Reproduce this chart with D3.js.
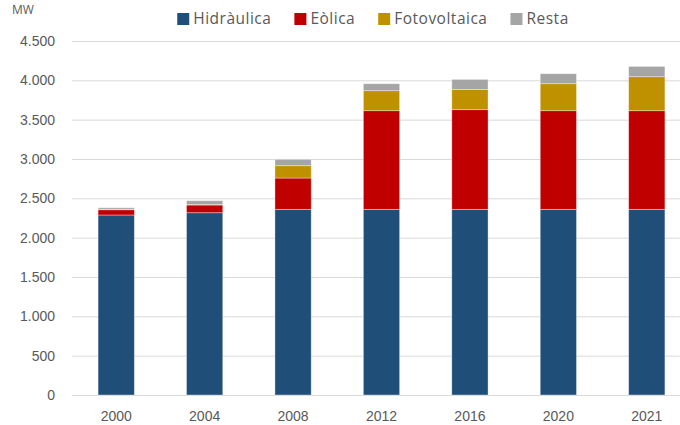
<!DOCTYPE html>
<html>
<head>
<meta charset="utf-8">
<script src="https://cdn.jsdelivr.net/npm/d3@7"></script>
<style>
body { margin: 0; background: #fff; }
svg { display: block; font-family: "Open Sans", "Liberation Sans", sans-serif; }
</style>
</head>
<body>
<svg></svg>
<script>
var screen = {width: 680, height: 425};
var margins = {top: 41, right: -11, bottom: 30, left: 72};

// MW installed per technology
var years = ["2000", "2004", "2008", "2012", "2016", "2020", "2021"];
var series = ["Hidràulica", "Eòlica", "Fotovoltaica", "Resta"];
var hidraulica = [2288, 2317, 2360, 2360, 2360, 2360, 2360];
var eolica = [67, 98, 398, 1254, 1267, 1254, 1254];
var fotovoltaica = [5, 5, 157, 254, 258, 343, 432];
var resta = [20, 50, 81, 89, 127, 127, 131];
var yTicks = [0, 500, 1000, 1500, 2000, 2500, 3000, 3500, 4000, 4500];
var colors = ["#1F4E79", "#C00000", "#BF9000", "#A5A5A5"];

var setup = function()
{
    var svg = d3.select("svg")
        .attr("width", screen.width)
        .attr("height", screen.height)

    var width = screen.width - margins.left - margins.right;
    var height = screen.height - margins.top - margins.bottom;

    var rows = years.map(function(y, i) {
        return {year: y, "Hidràulica": hidraulica[i], "Eòlica": eolica[i],
                "Fotovoltaica": fotovoltaica[i], "Resta": resta[i]};
    });

    var xScale = d3.scaleBand()
        .domain(years)
        .range([0, width])
        .paddingInner(0.59)
        .paddingOuter(0.295);

    var yScale = d3.scaleLinear()
        .domain([0, 4500])
        .range([height, 0]);

    var cScale = d3.scaleOrdinal()
        .domain(series)
        .range(colors);

    var fmt = d3.formatLocale({decimal: ",", thousands: ".", grouping: [3], currency: ["", "€"]}).format(",d");

    var graph = svg.append("g")
        .attr("id", "graph")
        .attr("transform", "translate(" + margins.left + "," + margins.top + ")");

    // gridlines
    graph.append("g")
        .attr("class", "grid")
        .call(d3.axisLeft(yScale).tickValues(yTicks).tickSize(-(screen.width - margins.left)).tickFormat(""))
        .call(function(g) { g.select(".domain").remove(); })
        .selectAll("line")
        .attr("stroke", "#d9d9d9")
        .attr("stroke-width", 1);

    // y axis labels
    graph.append("g")
        .attr("class", "yAxis")
        .call(d3.axisLeft(yScale).tickValues(yTicks).tickSize(0).tickPadding(17).tickFormat(fmt))
        .call(function(g) { g.select(".domain").remove(); })
        .selectAll("text")
        .attr("fill", "#595959")
        .style("font-size", "14px");

    var stack = d3.stack().keys(series)(rows);

    graph.append("g")
        .selectAll("g")
        .data(stack)
        .enter()
        .append("g")
        .attr("fill", function(d) { return cScale(d.key); })
        .selectAll("rect")
        .data(function(d) { return d; })
        .enter()
        .append("rect")
        .attr("x", function(d) { return xScale(d.data.year); })
        .attr("y", function(d) { return yScale(d[1]); })
        .attr("width", xScale.bandwidth())
        .attr("height", function(d) { return yScale(d[0]) - yScale(d[1]); })
        .attr("stroke", "#ffffff")
        .attr("stroke-opacity", 0.45)
        .attr("stroke-width", 0.8);

    // x axis labels
    graph.append("g")
        .attr("class", "xAxis")
        .attr("transform", "translate(0," + height + ")")
        .call(d3.axisBottom(xScale).tickSize(0).tickPadding(16))
        .call(function(g) { g.select(".domain").remove(); })
        .selectAll("text")
        .attr("fill", "#595959")
        .style("font-size", "14px");

    // unit label
    svg.append("text")
        .attr("x", 12)
        .attr("y", 14)
        .attr("fill", "#595959")
        .style("font-size", "12px")
        .text("MW");

    drawLegend(svg, cScale);
}

var drawLegend = function(svg, cScale)
{
    var legend = svg.append("g").attr("id", "legend");

    var gs = legend.selectAll("g")
        .data(series)
        .enter()
        .append("g");

    gs.append("rect")
        .attr("width", 12)
        .attr("height", 12)
        .attr("y", -6)
        .attr("fill", function(d) { return cScale(d); });

    gs.append("text")
        .attr("x", 16)
        .attr("dy", "0.35em")
        .attr("fill", "#595959")
        .style("font-size", "15.5px")
        .style("letter-spacing", "0.5px")
        .text(function(d) { return d; });

    var xpos = 0;
    var lefts = [];
    gs.each(function() {
        lefts.push(xpos);
        xpos += 16 + d3.select(this).select("text").node().getComputedTextLength() + 23;
    });
    var total = xpos - 23;
    var start = 373 - total / 2;
    gs.attr("transform", function(d, i) { return "translate(" + (start + lefts[i]) + ",19)"; });
}

setup();
</script>
</body>
</html>
